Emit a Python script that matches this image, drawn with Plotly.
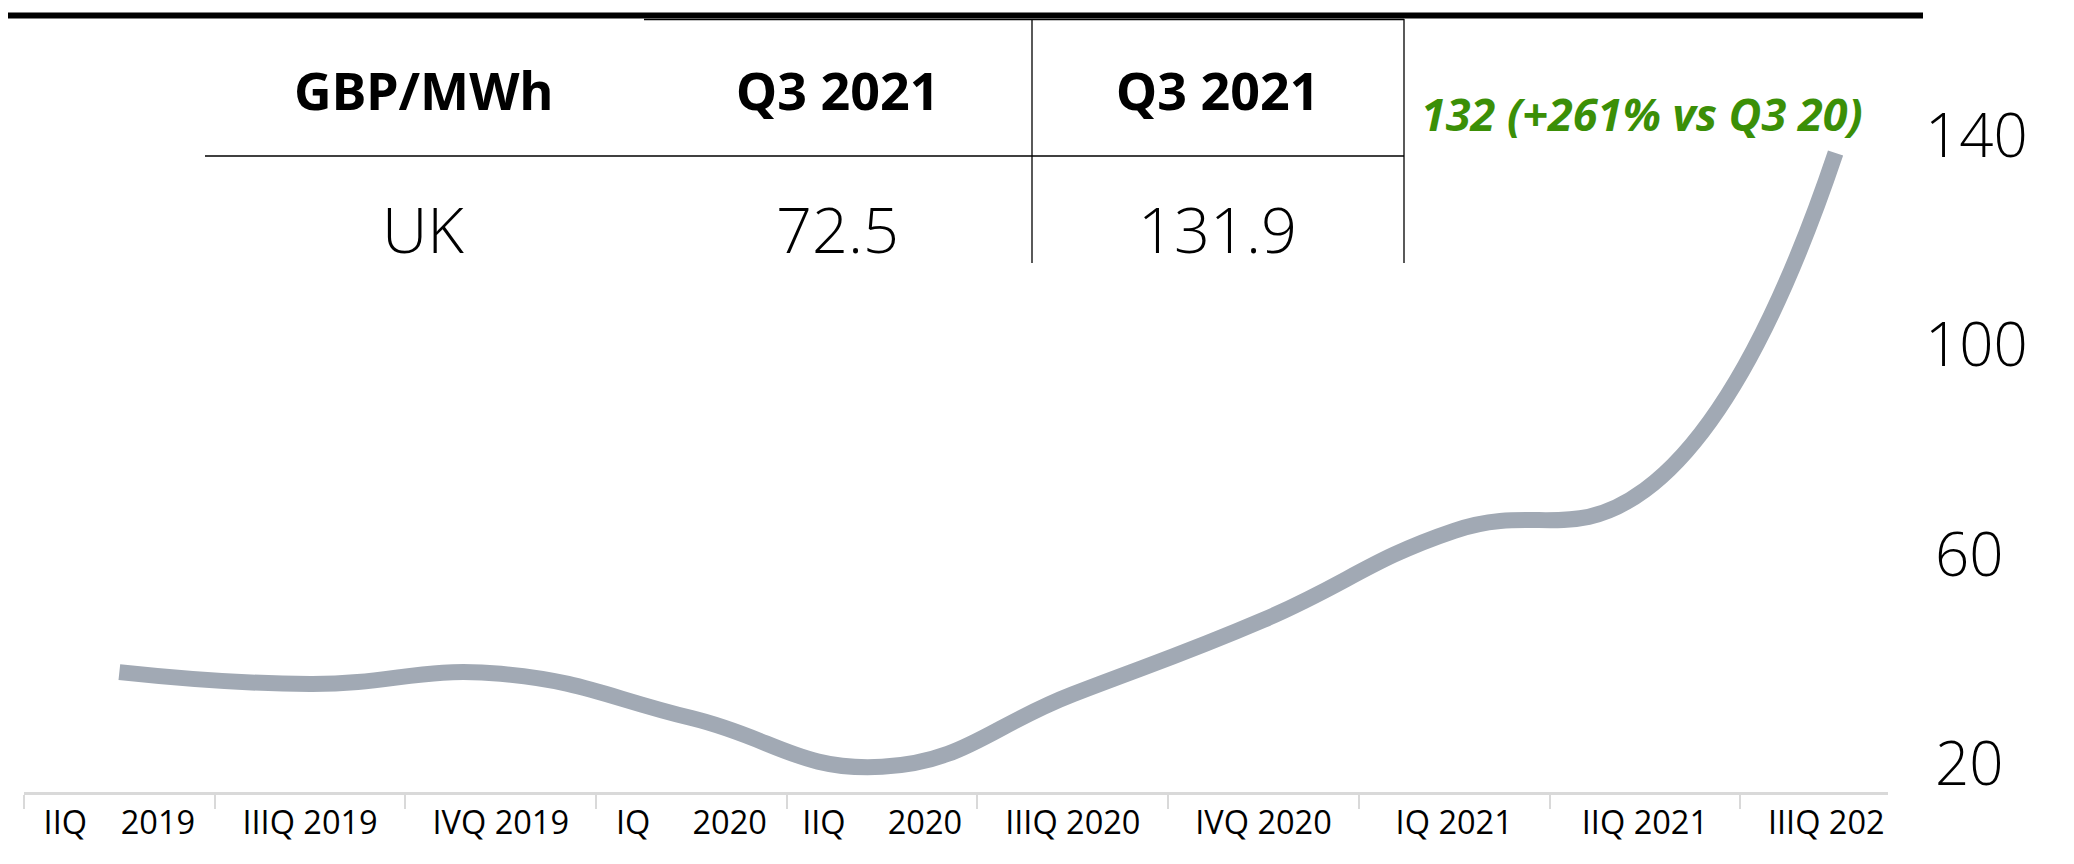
import plotly.graph_objects as go

# ---------------- data ----------------
categories = ["IIQ 2019", "IIIQ 2019", "IVQ 2019", "IQ 2020", "IIQ 2020",
              "IIIQ 2020", "IVQ 2020", "IQ 2021", "IIQ 2021", "IIIQ 2021"]
tick_labels = ["IIQ\u00a0\u00a0\u00a0 2019", "IIIQ 2019", "IVQ 2019",
               "IQ\u00a0\u00a0\u00a0\u00a0 2020", "IIQ\u00a0\u00a0\u00a0\u00a0 2020",
               "IIIQ 2020", "IVQ 2020", "IQ 2021", "IIQ 2021", "IIIQ 2021"]
prices = [40.4, 38.3, 40.1, 32.3, 23.7, 36.5, 49.6, 65.3, 72.5, 131.9]
y_tick_values = [20, 60, 100, 140]
y_tick_text = ["\u2009" + "20", "\u2009" + "60", "100", "140"]
table_header = ["GBP/MWh", "Q3 2021", "Q3 2021"]
table_row = ["UK", "72.5", "131.9"]
annotation_text = "132 (+261% vs Q3 20)"

# ---------------- geometry (screen pixels; page body has an 8px margin) ----------------
OFF = 8
W, H = 2074 - 2 * OFF, 864 - 2 * OFF
PLOT_L, PLOT_R, PLOT_T, PLOT_B = 24, 1888, 100, 792      # screen px
ML, MR, MT, MB = PLOT_L - OFF, W - (PLOT_R - OFF), PLOT_T - OFF, H - (PLOT_B - OFF)
PW = PLOT_R - PLOT_L
PH = PLOT_B - PLOT_T


def px2x(px):
    return (px - PLOT_L) / PW


def px2y(py):
    return (PLOT_B - py) / PH


LINE_COLOR = "#a1a9b4"
GREEN = "#3b8f07"

fig = go.Figure()
fig.add_trace(go.Scatter(
    x=categories, y=prices, mode="lines",
    line=dict(color=LINE_COLOR, width=16, shape="spline", smoothing=1.3),
    hoverinfo="skip", showlegend=False,
))
# empty trace so the right-hand label axis is rendered
fig.add_trace(go.Scatter(x=[], y=[], yaxis="y2", showlegend=False, hoverinfo="skip"))

shapes = [
    dict(type="line", xref="paper", yref="paper", x0=px2x(0), x1=px2x(1923),
         y0=px2y(15.5), y1=px2y(15.5), line=dict(color="#000000", width=6)),
    dict(type="line", xref="paper", yref="paper", x0=px2x(644), x1=px2x(1404),
         y0=px2y(19.5), y1=px2y(19.5), line=dict(color="#000000", width=1.5)),
    dict(type="line", xref="paper", yref="paper", x0=px2x(205), x1=px2x(1404),
         y0=px2y(156), y1=px2y(156), line=dict(color="#000000", width=1.3)),
    dict(type="line", xref="paper", yref="paper", x0=px2x(1032), x1=px2x(1032),
         y0=px2y(19), y1=px2y(263), line=dict(color="#000000", width=1.3)),
    dict(type="line", xref="paper", yref="paper", x0=px2x(1404), x1=px2x(1404),
         y0=px2y(19), y1=px2y(263), line=dict(color="#000000", width=1.3)),
    # plot area is cut off at its right edge in the reference: hide overflow of last label
    dict(type="rect", xref="paper", yref="paper", x0=px2x(1887), x1=px2x(1935),
         y0=px2y(856), y1=px2y(800), fillcolor="#ffffff", line=dict(width=0),
         layer="above"),
]

col_x = [423, 837, 1217]
annotations = []
for cx, txt in zip(col_x, table_header):
    annotations.append(dict(
        x=px2x(cx), y=px2y(89), xref="paper", yref="paper", text=f"<b>{txt}</b>",
        showarrow=False, xanchor="center", yanchor="middle",
        font=dict(family="Noto Sans", size=52, color="#000000")))
for cx, txt in zip(col_x, table_row):
    annotations.append(dict(
        x=px2x(cx), y=px2y(229), xref="paper", yref="paper", text=txt,
        showarrow=False, xanchor="center", yanchor="middle",
        font=dict(family="Open Sans", size=63, color="#000000", weight=300)))
annotations.append(dict(
    x=px2x(1642), y=px2y(113), xref="paper", yref="paper",
    text=f"<b><i>{annotation_text}</i></b>", showarrow=False,
    xanchor="center", yanchor="middle",
    font=dict(family="Open Sans", size=45, color=GREEN)))

fig.update_layout(
    width=W, height=H,
    margin=dict(l=ML, r=MR, t=MT, b=MB, pad=0),
    paper_bgcolor="#ffffff", plot_bgcolor="#ffffff",
    showlegend=False,
    shapes=shapes,
    annotations=annotations,
    xaxis=dict(
        type="category", categoryorder="array", categoryarray=categories,
        range=[-0.5, 9.275],
        tickmode="array", tickvals=categories, ticktext=tick_labels,
        tickson="boundaries", ticks="outside", ticklen=14, tickcolor="#d9d9d9",
        tickwidth=1.5,
        showline=True, linecolor="#d9d9d9", linewidth=2.5,
        showgrid=False, zeroline=False,
        tickfont=dict(family="Open Sans", size=32.5, color="#000000"),
        fixedrange=True,
    ),
    yaxis=dict(
        range=[72.5 - (792 - 490) / 5.673, 72.5 + (490 - 100) / 5.673],
        showticklabels=False, showgrid=False, zeroline=False, showline=False,
        ticks="", fixedrange=True,
    ),
    yaxis2=dict(
        overlaying="y", side="right", anchor="x",
        range=[20 - (792 - 764) / 5.2333, 140 + (136 - 100) / 5.2333],
        tickmode="array", tickvals=y_tick_values, ticktext=y_tick_text,
        showgrid=False, zeroline=False, showline=False, ticks="",
        ticklabelstandoff=36,
        tickfont=dict(family="Open Sans", size=60, color="#000000", weight=300),
        fixedrange=True,
    ),
)

fig.write_html("out.html")
